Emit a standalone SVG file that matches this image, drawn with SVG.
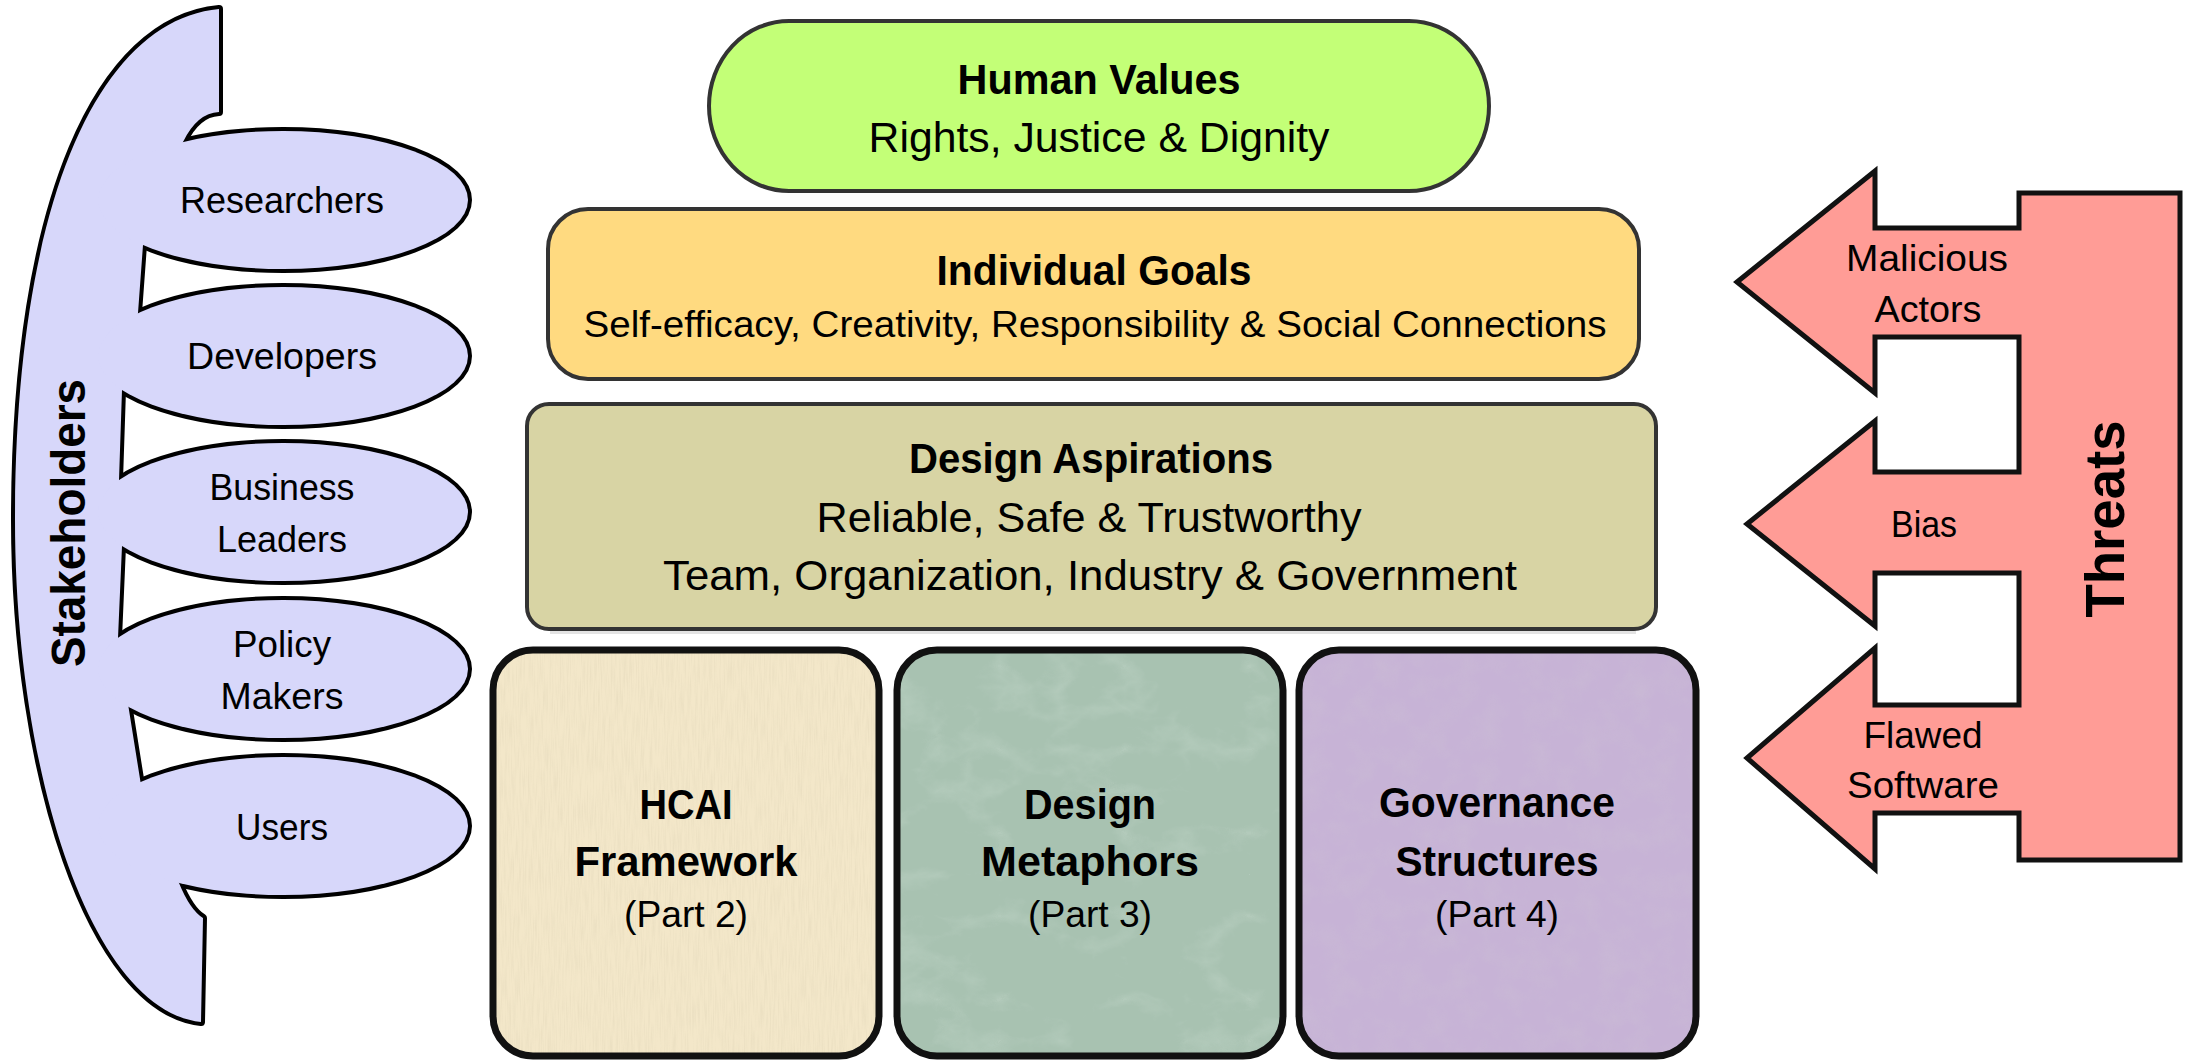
<svg xmlns="http://www.w3.org/2000/svg" width="2191" height="1061" viewBox="0 0 2191 1061">
<style>
.t{font-family:"Liberation Sans",Arial,sans-serif;fill:#000;text-anchor:middle}
.b{font-weight:bold}
.ol{fill:none;stroke:#000;stroke-width:8;stroke-linejoin:round}
.sf{fill:#D7D7FA;stroke:none}
.tier{stroke:#333;stroke-width:4}
.card{stroke:#111;stroke-width:7}
</style>
<defs>
<filter id="fx1" x="0" y="0" width="1" height="1">
<feTurbulence type="fractalNoise" baseFrequency="0.7 0.035" numOctaves="2" seed="2" result="n"/>
<feColorMatrix in="n" type="matrix" values="0 0 0 0 0.72  0 0 0 0 0.64  0 0 0 0 0.46  1.3 0 0 0 -0.5" result="m"/>
<feComposite in="m" in2="SourceGraphic" operator="in"/>
</filter>
<filter id="fx2" x="0" y="0" width="1" height="1">
<feTurbulence type="turbulence" baseFrequency="0.008 0.012" numOctaves="5" seed="7" result="n"/>
<feColorMatrix in="n" type="matrix" values="0 0 0 0 0.86  0 0 0 0 0.93  0 0 0 0 0.89  -1.6 0 0 0 0.4" result="m"/>
<feComposite in="m" in2="SourceGraphic" operator="in"/>
</filter>
<filter id="fx3" x="0" y="0" width="1" height="1">
<feTurbulence type="fractalNoise" baseFrequency="0.04" numOctaves="3" seed="11" result="n"/>
<feColorMatrix in="n" type="matrix" values="0 0 0 0 0.62  0 0 0 0 0.55  0 0 0 0 0.66  1.2 0 0 0 -0.45" result="m"/>
<feComposite in="m" in2="SourceGraphic" operator="in"/>
</filter>
<path id="band" d="M219,9 C100,20 15,200 15,520 C15,770 90,1010 201,1022 L203,918 Q190,910 179,883 L140.5,782 L128.5,707 L118,638 L122,546 L119,480 L122,390 L138,313 L143,245 L183,142 Q197,113 219,112 Z"/>
</defs>

<g id="connectors"/>

<g id="stakeholders">
<g class="ol">
<use href="#band"/>
<ellipse cx="283" cy="200" rx="185" ry="69"/>
<ellipse cx="283" cy="356" rx="185" ry="69"/>
<ellipse cx="283" cy="512" rx="185" ry="69"/>
<ellipse cx="283" cy="669" rx="185" ry="69"/>
<ellipse cx="283" cy="826" rx="185" ry="69"/>
</g>
<g class="sf">
<use href="#band"/>
<ellipse cx="283" cy="200" rx="185" ry="69"/>
<ellipse cx="283" cy="356" rx="185" ry="69"/>
<ellipse cx="283" cy="512" rx="185" ry="69"/>
<ellipse cx="283" cy="669" rx="185" ry="69"/>
<ellipse cx="283" cy="826" rx="185" ry="69"/>
</g>
<text class="t b" font-size="48" transform="translate(85,523) rotate(-90)" textLength="288" lengthAdjust="spacingAndGlyphs">Stakeholders</text>
<g id="researchers"><text class="t" x="282" y="213" font-size="37" textLength="204" lengthAdjust="spacingAndGlyphs">Researchers</text></g>
<g id="developers"><text class="t" x="282" y="369" font-size="37" textLength="190" lengthAdjust="spacingAndGlyphs">Developers</text></g>
<g id="business-leaders"><text class="t" x="282" y="500" font-size="37" textLength="145" lengthAdjust="spacingAndGlyphs">Business</text>
<text class="t" x="282" y="552" font-size="37" textLength="130" lengthAdjust="spacingAndGlyphs">Leaders</text></g>
<g id="policy-makers"><text class="t" x="282" y="657" font-size="37" textLength="98" lengthAdjust="spacingAndGlyphs">Policy</text>
<text class="t" x="282" y="709" font-size="37" textLength="123" lengthAdjust="spacingAndGlyphs">Makers</text></g>
<g id="users"><text class="t" x="282" y="840" font-size="37" textLength="92" lengthAdjust="spacingAndGlyphs">Users</text></g>
</g>

<g id="human-values">
<rect class="tier" x="709" y="21" width="780" height="170" rx="80" ry="85" fill="#C3FF77"/>
<text class="t b" x="1099" y="94" font-size="42" textLength="283" lengthAdjust="spacingAndGlyphs">Human Values</text>
<text class="t" x="1099" y="152" font-size="42" textLength="461" lengthAdjust="spacingAndGlyphs">Rights, Justice &amp; Dignity</text>
</g>

<g id="individual-goals">
<rect class="tier" x="548" y="209" width="1091" height="170" rx="40" fill="#FFDA80"/>
<text class="t b" x="1094" y="285" font-size="42" textLength="315" lengthAdjust="spacingAndGlyphs">Individual Goals</text>
<text class="t" x="1095" y="337" font-size="36" textLength="1023" lengthAdjust="spacingAndGlyphs">Self-efficacy, Creativity, Responsibility &amp; Social Connections</text>
</g>

<g id="design-aspirations">
<rect x="550" y="629" width="1086" height="5" fill="#E3E3E3"/>
<rect class="tier" x="527" y="404" width="1129" height="225" rx="22" fill="#D8D4A4"/>
<text class="t b" x="1091" y="473" font-size="42" textLength="364" lengthAdjust="spacingAndGlyphs">Design Aspirations</text>
<text class="t" x="1089" y="532" font-size="42" textLength="545" lengthAdjust="spacingAndGlyphs">Reliable, Safe &amp; Trustworthy</text>
<text class="t" x="1090" y="590" font-size="42" textLength="854" lengthAdjust="spacingAndGlyphs">Team, Organization, Industry &amp; Government</text>
</g>

<g id="hcai-framework">
<rect x="493" y="650" width="386" height="406" rx="40" fill="#F3E7C9"/>
<rect x="493" y="650" width="386" height="406" rx="40" fill="#000" filter="url(#fx1)" opacity="0.55"/>
<rect class="card" x="493" y="650" width="386" height="406" rx="40" fill="none"/>
<text class="t b" x="686" y="819" font-size="42" textLength="93" lengthAdjust="spacingAndGlyphs">HCAI</text>
<text class="t b" x="686" y="876" font-size="42" textLength="223" lengthAdjust="spacingAndGlyphs">Framework</text>
<text class="t" x="686" y="927" font-size="37" textLength="124" lengthAdjust="spacingAndGlyphs">(Part 2)</text>
</g>

<g id="design-metaphors">
<rect x="897" y="650" width="386" height="406" rx="40" fill="#A8C2B1"/>
<rect x="897" y="650" width="386" height="406" rx="40" fill="#000" filter="url(#fx2)" opacity="0.4"/>
<rect class="card" x="897" y="650" width="386" height="406" rx="40" fill="none"/>
<text class="t b" x="1090" y="819" font-size="42" textLength="132" lengthAdjust="spacingAndGlyphs">Design</text>
<text class="t b" x="1090" y="876" font-size="42" textLength="218" lengthAdjust="spacingAndGlyphs">Metaphors</text>
<text class="t" x="1090" y="927" font-size="37" textLength="124" lengthAdjust="spacingAndGlyphs">(Part 3)</text>
</g>

<g id="governance-structures">
<rect x="1299" y="650" width="397" height="406" rx="40" fill="#C7B3D6"/>
<rect x="1299" y="650" width="397" height="406" rx="40" fill="#000" filter="url(#fx3)" opacity="0.45"/>
<rect class="card" x="1299" y="650" width="397" height="406" rx="40" fill="none"/>
<text class="t b" x="1497" y="817" font-size="42" textLength="236" lengthAdjust="spacingAndGlyphs">Governance</text>
<text class="t b" x="1497" y="876" font-size="42" textLength="203" lengthAdjust="spacingAndGlyphs">Structures</text>
<text class="t" x="1497" y="927" font-size="37" textLength="124" lengthAdjust="spacingAndGlyphs">(Part 4)</text>
</g>

<g id="threats">
<path d="M2180,193 L2019,193 L2019,228 L1875,228 L1875,171 L1737,282 L1875,393 L1875,337 L2019,337 L2019,472 L1875,472 L1875,421 L1747,524 L1875,626 L1875,573 L2019,573 L2019,705 L1875,705 L1875,648 L1747,758 L1875,869 L1875,813 L2019,813 L2019,860 L2180,860 Z" fill="#FF9C96" stroke="#111" stroke-width="5" stroke-linejoin="miter"/>
<text class="t b" font-size="56" transform="translate(2124,519) rotate(-90)" textLength="197" lengthAdjust="spacingAndGlyphs">Threats</text>
<g id="malicious-actors"><text class="t" x="1927" y="271" font-size="37" textLength="162" lengthAdjust="spacingAndGlyphs">Malicious</text>
<text class="t" x="1928" y="322" font-size="37" textLength="107" lengthAdjust="spacingAndGlyphs">Actors</text></g>
<g id="bias"><text class="t" x="1924" y="537" font-size="37" textLength="66" lengthAdjust="spacingAndGlyphs">Bias</text></g>
<g id="flawed-software"><text class="t" x="1923" y="748" font-size="37" textLength="119" lengthAdjust="spacingAndGlyphs">Flawed</text>
<text class="t" x="1923" y="798" font-size="37" textLength="152" lengthAdjust="spacingAndGlyphs">Software</text></g>
</g>
</svg>
